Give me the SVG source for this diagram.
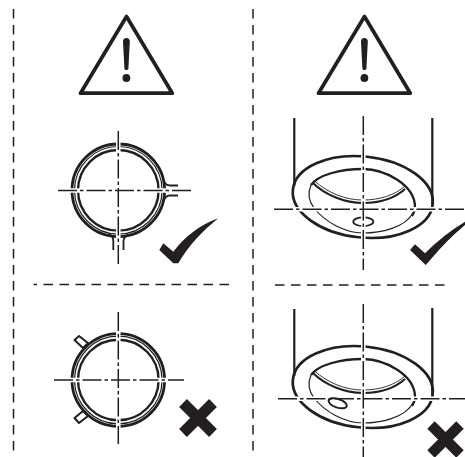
<svg xmlns="http://www.w3.org/2000/svg" width="465" height="457" viewBox="0 0 465 457">
<style>
.dash{fill:none;stroke:#231f20;stroke-width:1.5;stroke-dasharray:9.5 6.5}
.cl{fill:none;stroke:#231f20;stroke-width:1.5;stroke-dasharray:19 3 3.5 3}
.halo{fill:none;stroke:#fff;stroke-width:4.5}
.k{fill:none;stroke:#231f20}
.f{fill:#231f20}
</style>
<defs>
<g id="warn">
<path class="k" stroke-width="3.7" stroke-linejoin="round" d="M126.500 16.500 L172.300 93.200 H80.500 Z"/>
<path class="f" d="M123 41.500 Q123 38 126.400 38 Q129.800 38 129.800 41.500 L128.400 68.500 Q128.200 70 126.400 70 Q124.600 70 124.400 68.500 Z"/>
<circle class="f" cx="126.400" cy="78" r="3.900"/>
</g>
<g id="rings">
<circle class="k" cx="118.300" cy="0" r="46.300" stroke-width="2.800"/>
<circle class="k" cx="118.300" cy="0" r="43.800" stroke-width="1.200"/>
<circle class="k" cx="118.300" cy="0" r="40.300" stroke-width="2.400"/>
</g>
<g id="bowl">
<ellipse class="k" stroke-width="2.700" cx="362.800" cy="197" rx="70.300" ry="40.500" transform="rotate(6 362.800 197)"/>
<path class="k" stroke-width="2.300" d="M311 185 C318 175 340 169 363 169 C385 169 415 185 415 207 C415 210 414 213 412 216"/>
<path class="k" stroke-width="1.200" d="M311 185 C308 192 308 200 314 208 C325 222 345 233 363 233 C380 233 405 228 413 213"/>
<path class="k" stroke-width="2.100" d="M313 183 C325 195 345 203 363 203 C380 203 395 198 405 189"/>
<path class="k" stroke-width=".9" d="M314 180.500 C328 193 345 200 363 200 C380 200 395 195 405 186"/>
</g>
</defs>
<g id="dividers">
<path class="dash" d="M13.500 9 V451"/>
<path class="dash" d="M253 9 V451"/>
<path class="dash" d="M33.500 284.500 H231" stroke-dashoffset="6"/>
<path class="dash" d="M275 285 H446"/>
</g>
<g id="warning-left"><use href="#warn"/></g>
<g id="warning-right"><use href="#warn" x="238"/></g>
<g id="ring-ok">
<use href="#rings" y="190.300"/>
<path class="k" stroke-width="1.800" d="M163 179 Q165 185.500 170 185.500 H178 M163 202 Q165 195.500 170 195.500 H178"/>
<path class="k" stroke-width="1.800" d="M109 234.500 Q113.300 236 113.300 241 V250 M130 234.500 Q123.500 236 123.500 241 V250"/>
<path class="halo" d="M58 190.500 H193 M118.300 131 V265"/>
<path class="cl" d="M58 190.500 H193 M118.300 131 V265"/>
<path class="f" d="M159.300 250 L163.300 243.300 L173.300 251.700 Q182 240 193.300 231.700 Q205 223 218.300 218.300 Q206 228 196.700 238.300 Q186 250 178.300 263.300 L173.300 263.300 Z"/>
</g>
<g id="ring-bad">
<path fill="#fff" stroke="#231f20" stroke-width="2" stroke-linejoin="round" d="M74.500 340 L79 336 L88 343 L83 348 Z M74.500 418 L79 423 L88 416 L83 411 Z"/>
<use href="#rings" y="380"/>
<path class="halo" d="M54 380 H184 M118.300 312 V444"/>
<path class="cl" d="M54 380 H184 M118.300 312 V444"/>
<path class="k" stroke-width="11" d="M183 403 L213 433 M213 403 L183 433"/>
</g>
<g id="bowl-ok">
<use href="#bowl"/>
<path class="k" stroke-width="2.200" d="M294.300 118 V186 M432.300 118 V205"/>
<ellipse class="k" cx="363.300" cy="221.700" rx="10" ry="4.300" stroke-width="1.800"/>
<path class="halo" d="M274 209.300 H465 M363.300 116 V270"/>
<path class="cl" d="M274 209.300 H465 M363.300 116 V270"/>
<path class="f" d="M410 250 L415 244.300 L425 253.300 Q443 235 465 221.700 V225 Q447 240 431.700 258.300 L425.700 265 Z"/>
</g>
<g id="bowl-bad">
<use href="#bowl" y="190"/>
<path class="k" stroke-width="2.200" d="M294.300 309 V376 M432.300 308 V395"/>
<path class="halo" d="M278 398.700 H465 M363.300 304 V457"/>
<path class="cl" d="M278 398.700 H465 M363.300 304 V457"/>
<ellipse class="k" cx="337.700" cy="403.300" rx="9.500" ry="4.300" stroke-width="2" transform="rotate(18 337.700 403.300)"/>
<path class="k" stroke-width="10.500" d="M431 425 L460 454 M460 425 L431 454"/>
</g>
</svg>
